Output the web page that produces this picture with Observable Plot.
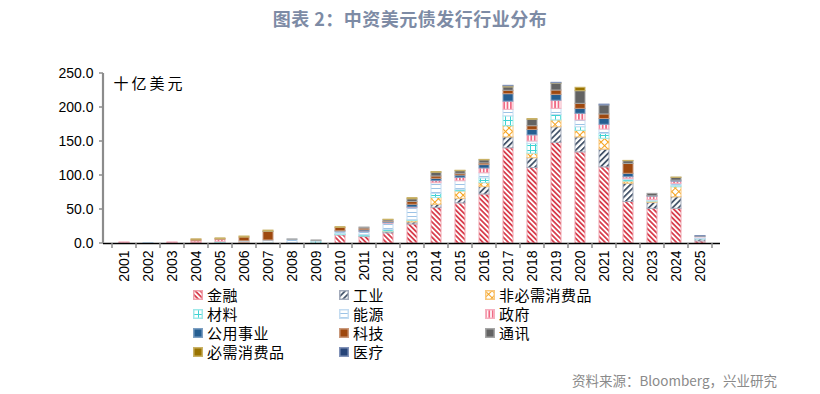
<!DOCTYPE html>
<html>
<head>
<meta charset="utf-8">
<script src="https://cdn.jsdelivr.net/npm/d3@7"></script>
<script src="https://cdn.jsdelivr.net/npm/@observablehq/plot@0.6"></script>
<style>
  html, body { margin: 0; padding: 0; background: #fff; }
  #wrap { position: relative; width: 820px; height: 394px; overflow: hidden; background: #fff; font-family: "Noto Sans CJK SC", "Liberation Sans", sans-serif; }
  #title { position: absolute; left: 0; width: 820px; top: 5px; text-align: center; font-size: 18px; font-weight: bold; color: #7d8ba5; letter-spacing: 0.5px; }
  #chart { position: absolute; left: 0; top: 0; }
  #legend { position: absolute; left: 193px; top: 285px; display: grid; grid-template-columns: 146px 146px 146px; grid-auto-rows: 19px; font-size: 15px; letter-spacing: 0.5px; color: #000; }
  .item { display: flex; align-items: center; white-space: nowrap; }
  .item svg { margin-right: 4px; }
  #source { position: absolute; right: 43px; top: 370px; font-size: 13.5px; color: #8a8a8a; }
  .unit { letter-spacing: 3px; }
</style>
</head>
<body>
<svg width="0" height="0" style="position:absolute">
  <defs>
    <pattern id="p0" width="3.6" height="3.6" patternUnits="userSpaceOnUse" patternTransform="rotate(-45)">
      <rect width="3.6" height="3.6" fill="#fff"/><rect width="1.8" height="3.6" fill="#d8404f"/>
    </pattern>
    <pattern id="p1" width="4.2" height="4.2" patternUnits="userSpaceOnUse" patternTransform="rotate(45)">
      <rect width="4.2" height="4.2" fill="#fff"/><rect width="1.8" height="4.2" fill="#44546a"/>
    </pattern>
    <pattern id="p2" width="5" height="5" patternUnits="userSpaceOnUse" patternTransform="rotate(45)">
      <rect width="5" height="5" fill="#fff"/><rect width="1" height="5" fill="#f5a31f"/><rect width="5" height="1" fill="#f5a31f"/>
    </pattern>
    <pattern id="p3" width="5" height="5" patternUnits="userSpaceOnUse">
      <rect width="5" height="5" fill="#fff"/><rect width="1" height="5" fill="#3fd3d3"/><rect width="5" height="1" fill="#3fd3d3"/>
    </pattern>
    <pattern id="p4" width="4" height="4" patternUnits="userSpaceOnUse">
      <rect width="4" height="4" fill="#fff"/><rect width="4" height="1" fill="#9dc3e6"/>
    </pattern>
    <pattern id="p5" width="3.4" height="3.4" patternUnits="userSpaceOnUse">
      <rect width="3.4" height="3.4" fill="#fff"/><rect width="1.8" height="3.4" fill="#f06a85"/>
    </pattern>
  </defs>
</svg>
<div id="wrap">
  <div id="chart"></div>
  <div id="title">图表 2：中资美元债发行行业分布</div>
  <div id="legend"></div>
  <div id="source">资料来源：Bloomberg，兴业研究</div>
</div>
<script>
const years = ["2001","2002","2003","2004","2005","2006","2007","2008","2009","2010","2011","2012","2013","2014","2015","2016","2017","2018","2019","2020","2021","2022","2023","2024","2025"];
const sectors = ["金融","工业","非必需消费品","材料","能源","政府","公用事业","科技","通讯","必需消费品","医疗"];
const yTicks = [0, 50, 100, 150, 200, 250];
const unitLabel = "十亿美元";

const finance     = [1.0, 0, 1.0, 1.5, 0.5, 1.5, 0, 0, 0, 12, 9.5, 15, 28, 52.5, 59, 72, 140, 111, 148, 134, 112, 61, 51, 51, 3];
const industrial  = [0, 0, 0, 0, 0, 0, 0, 0.5, 0, 0.5, 1, 2, 3, 4.5, 6.7, 11, 16, 14.5, 23, 22, 26, 27, 9, 17, 3];
const consDisc    = [0, 0, 0, 0, 0, 0.3, 1, 0, 0, 0, 0, 0.5, 2, 10, 10.8, 5.8, 16.5, 6.5, 10, 9.7, 16, 3, 1.5, 14.8, 0];
const materials   = [0, 0, 0, 0, 2, 0, 0, 0, 3, 2, 2, 2.5, 1.5, 6, 2.5, 7, 14.5, 14.5, 8, 5.3, 7, 2.5, 1, 2.2, 0.5];
const energy      = [0, 0.7, 0, 0, 0, 1.5, 3.5, 5, 0.5, 3, 4.5, 9, 17.5, 15.7, 12.6, 7.5, 9.6, 3.5, 9, 10, 6.6, 1.5, 1.5, 2.7, 2.5];
const government  = [0.5, 0, 0.5, 2, 3, 0, 0, 0, 0, 0, 0.5, 1, 1, 3, 5, 7, 12, 9, 12, 9.7, 7, 2.5, 5, 3.3, 0.5];
const utilities   = [0, 0, 0, 0, 0, 0, 0, 0, 0, 0.5, 2, 1.5, 4, 3.4, 3.4, 5, 11, 8, 8.6, 7.3, 8.5, 5, 0.5, 1.5, 0];
const technology  = [0, 0, 0, 2, 1, 5.5, 12.5, 0, 0, 5, 2.5, 1, 4, 3.5, 2.5, 2.5, 5, 5.5, 6.4, 7.4, 6.7, 14.5, 0, 0, 0];
const telecom     = [0, 0, 0, 0, 0, 0, 0.5, 0.5, 1, 0, 1.5, 2, 4, 5.5, 3.8, 4.5, 5, 9.5, 10, 18.6, 13.3, 4, 3.5, 4, 1];
const consStaples = [0, 0, 0, 0.5, 1, 1.5, 1.5, 0, 0, 1, 0, 0.5, 1.7, 1, 0.7, 0.7, 1.5, 1, 0.5, 5, 0, 0.5, 0, 0.5, 0];
const healthcare  = [0, 0, 0, 0, 0, 0, 0, 0, 0, 0, 0, 0, 0, 0, 0, 0, 0.8, 0, 0.8, 0, 1.2, 0, 0, 0, 0.5];

const seriesValues = [finance, industrial, consDisc, materials, energy, government, utilities, technology, telecom, consStaples, healthcare];

// styles
const fills = ["url(#p0)","url(#p1)","url(#p2)","url(#p3)","url(#p4)","url(#p5)","#255e91","#9e480e","#636363","#997300","#264478"];
const outlines = ["#f0a2ad","#a3abbb","#f9c87e","#9fe9e9","#c4dcf1","#f6b0bf","#7d9fc2","#c9987a","#a6a6a6","#c9b266","#8192b8"];

const rows = [];
years.forEach((yr, i) => sectors.forEach((s, j) => {
  const v = seriesValues[j][i];
  if (v > 0) rows.push({year: yr, sector: s, value: v});
}));
const outlineOf = Object.fromEntries(sectors.map((s, j) => [s, outlines[j]]));

const chart = Plot.plot({
  width: 820,
  height: 292,
  marginLeft: 103,
  marginRight: 100,
  marginTop: 73,
  marginBottom: 49,
  style: {fontSize: "14px", fontFamily: "Liberation Sans, Noto Sans CJK SC, sans-serif", color: "#000", background: "transparent"},
  x: {domain: years, padding: 0, tickSize: 0, tickRotate: -90, tickPadding: 7, label: null},
  y: {domain: [0, 250], ticks: yTicks, tickFormat: d3.format(".1f"), tickSize: 0, tickPadding: 10, label: null},
  color: {domain: sectors, range: fills},
  marks: [
    Plot.barY(rows, Plot.stackY({
      x: "year", y: "value", fill: "sector", z: "sector",
      stroke: d => outlineOf[d.sector], strokeWidth: 1,
      insetLeft: 7, insetRight: 7, order: sectors
    })),
    Plot.ruleY([0], {stroke: "#000", strokeWidth: 1.5}),
    Plot.text([unitLabel], {text: d => d, frameAnchor: "top-left", dx: 10, dy: 5, fontSize: 15, fontFamily: "Noto Sans CJK SC", fill: "#000", className: "unit"})
  ]
});
document.getElementById("chart").appendChild(chart);
d3.select(chart).selectAll(".unit text").style("letter-spacing", "3px");

// axis line and tick marks from Plot's own scales
const xs = chart.scale("x"), ys = chart.scale("y");
const g = d3.select(chart).append("g").attr("stroke", "#8c8c8c");
const left = xs.range[0];
g.append("line").attr("x1", left).attr("x2", left).attr("y1", ys.apply(250)).attr("y2", ys.apply(0)).attr("stroke-width", 2.2);
yTicks.forEach(t => g.append("line").attr("x1", left - 4).attr("x2", left).attr("y1", ys.apply(t)).attr("y2", ys.apply(t)).attr("stroke-width", 1.5));
const bounds = years.map(y => xs.apply(y)).concat([xs.apply(years[years.length - 1]) + xs.bandwidth]);
bounds.forEach(b => g.append("line").attr("x1", b).attr("x2", b).attr("y1", ys.apply(0)).attr("y2", ys.apply(0) + 5).attr("stroke-width", 1.5));

// legend
const legend = d3.select("#legend");
sectors.forEach((s, j) => {
  const it = legend.append("div").attr("class", "item");
  const sw = it.append("svg").attr("width", 10).attr("height", 10);
  sw.append("rect").attr("x", 0.75).attr("y", 0.75).attr("width", 8.5).attr("height", 8.5)
    .attr("fill", fills[j]).attr("stroke", outlines[j]).attr("stroke-width", 1.5);
  it.append("span").text(s);
});
</script>
</body>
</html>
